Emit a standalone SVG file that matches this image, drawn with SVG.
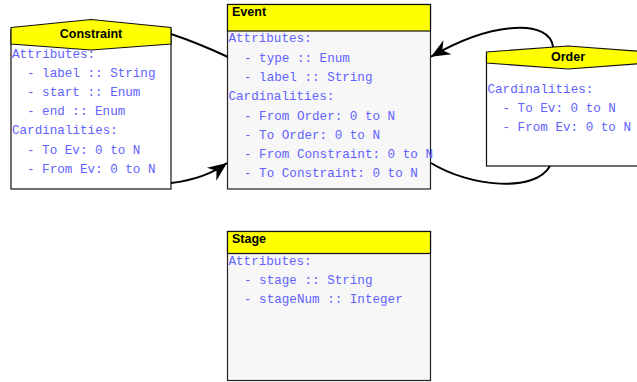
<svg xmlns="http://www.w3.org/2000/svg" width="637" height="382" viewBox="0 0 637 382">
<style>
.body{fill:#ffffff;stroke:#111;stroke-width:1.2}
.gbody{fill:#f7f7f7;stroke:#222;stroke-width:1.2}
.head{fill:#ffff00;stroke:#111;stroke-width:1.2}
.title{font-family:"Liberation Sans",Arial,sans-serif;font-weight:bold;font-size:12.5px;fill:#000}
.t{font-family:"Liberation Mono","Courier New",monospace;font-size:12.6px;fill:#6262ff}
.edge{fill:none;stroke:#000;stroke-width:2}
</style>
<defs>
<marker id="arr" markerUnits="userSpaceOnUse" viewBox="-20 -9 21 18" refX="0" refY="0" markerWidth="21" markerHeight="18" orient="auto">
<path d="M0,0 L-19,-8 L-13,0 L-19,8 Z" fill="#000"/>
</marker>
</defs>
<rect width="637" height="382" fill="#ffffff"/>
<g id="node-constraint">
<rect class="body" x="11" y="30" width="160" height="159"/>
<polygon class="head" points="11,27.5 91,19.5 171,27.5 171,44 91,50 11,44"/>
<text class="title" x="91" y="37.5" text-anchor="middle">Constraint</text>
<text class="t" x="12" y="57.5">Attributes:</text>
<text class="t" x="27" y="76.7">- label :: String</text>
<text class="t" x="27" y="95.9">- start :: Enum</text>
<text class="t" x="27" y="115.1">- end :: Enum</text>
<text class="t" x="12" y="134.3">Cardinalities:</text>
<text class="t" x="27" y="153.5">- To Ev: 0 to N</text>
<text class="t" x="27" y="172.7">- From Ev: 0 to N</text>
</g>
<g id="node-event">
<rect class="gbody" x="227.5" y="4.5" width="203" height="184.5"/>
<rect class="head" x="227.5" y="4.5" width="203" height="26.5"/>
<text class="title" x="232" y="15.5">Event</text>
<text class="t" x="228.5" y="42.3">Attributes:</text>
<text class="t" x="244" y="61.6">- type :: Enum</text>
<text class="t" x="244" y="80.9">- label :: String</text>
<text class="t" x="228.5" y="100.2">Cardinalities:</text>
<text class="t" x="244" y="119.5">- From Order: 0 to N</text>
<text class="t" x="244" y="138.8">- To Order: 0 to N</text>
<text class="t" x="244" y="158.1">- From Constraint: 0 to N</text>
<text class="t" x="244" y="177.4">- To Constraint: 0 to N</text>
</g>
<g id="node-order">
<rect class="body" x="486.5" y="55" width="163" height="111"/>
<polygon class="head" points="486.5,52 568,46 649.5,52 649.5,63 568,69 486.5,63"/>
<text class="title" x="568" y="61" text-anchor="middle">Order</text>
<text class="t" x="487.5" y="93">Cardinalities:</text>
<text class="t" x="502.5" y="112">- To Ev: 0 to N</text>
<text class="t" x="502.5" y="131">- From Ev: 0 to N</text>
</g>
<g id="node-stage">
<rect class="gbody" x="227.5" y="231.5" width="203" height="149"/>
<rect class="head" x="227.5" y="231.5" width="203" height="22"/>
<text class="title" x="232" y="243">Stage</text>
<text class="t" x="228.5" y="264.7">Attributes:</text>
<text class="t" x="244" y="283.7">- stage :: String</text>
<text class="t" x="244" y="302.7">- stageNum :: Integer</text>
</g>
<g id="connectors">
<path class="edge" d="M171,34 Q198,43 228,57"/>
<path class="edge" d="M171,183 Q205,179 227,163" marker-end="url(#arr)"/>
<path class="edge" d="M553,47 C550,20 495,20 431,56.7" marker-end="url(#arr)"/>
<path class="edge" d="M431,163 C470,187 535,193 550,166"/>
</g>
</svg>
